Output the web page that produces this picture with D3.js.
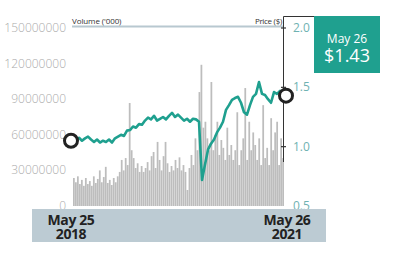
<!DOCTYPE html>
<html><head><meta charset="utf-8">
<script src="https://cdn.jsdelivr.net/npm/d3@7"></script>
<style>html,body{margin:0;padding:0;background:#fff;}svg{display:block;font-family:"Open Sans",sans-serif;}</style>
</head><body><svg id="c" width="394" height="259"></svg>
<script>
// Volume (daily-ish, millions of shares)
const volume = [23.6,20,25,18.5,22,17,23.6,18.5,21,17,25,19.4,22.8,30,20,24.4,33,19.4,22,17.7,
23.6,20,25,28.7,38.8,30,40.4,34.5,86.8,47,40.4,32,36,28.7,33.7,28.7,32,37,30,42,
45.5,32,54,38.8,30,42,54,36,28.7,33.7,30,38.8,32,41,30,34.5,28.7,13.5,32,43,
34.5,57,47,96,119,66,71,57,47,104.5,47,60,71,43,55.6,49,38.8,66,43,51.4,
38.8,47,79,34.5,47,57,99.4,38.8,71,47,62,51.4,38.8,57,34.5,85,40.4,49,34.5,74,
47,62,71,34.5,57,40.4];
// Share price ($)
const price = [1.05,1.06,1.075,1.05,1.07,1.085,1.06,1.04,1.06,1.035,1.05,1.04,1.06,1.035,1.07,1.085,1.10,1.09,1.135,1.14,
1.17,1.16,1.19,1.185,1.22,1.245,1.23,1.26,1.22,1.235,1.25,1.23,1.26,1.285,1.25,1.27,1.245,1.22,1.235,1.21,
1.235,1.23,1.21,0.72,0.85,0.975,1.025,1.06,1.12,1.16,1.21,1.31,1.35,1.395,1.41,1.42,1.37,1.29,1.27,1.35,
1.42,1.445,1.545,1.445,1.435,1.40,1.37,1.46,1.445,1.47,1.43];
const volTicks = [0,30000000,60000000,90000000,120000000,150000000];
const priceTicks = [0.5,1.0,1.5,2.0];
const startLabel = ["May 25","2018"];
const endLabel = ["May 26","2021"];
const calloutLabel = ["May 26","$1.43"];
const volTitle = "Volume ('000)";
const priceTitle = "Price ($)";

const svg = d3.select("#c");
const L = 73, R = 283, T = 28, B = 206;
const teal = "#1fa08f";

const yV = d3.scaleLinear().domain([0,150]).range([B,T]);
const yP = d3.scaleLinear().domain([0.5,2.0]).range([B,T]);
const xB = d3.scaleBand().domain(d3.range(volume.length)).range([L,R+1]).paddingInner(0.12);
const xP = d3.scaleLinear().domain([0,price.length-1]).range([L,R]);

// header line
svg.append("line").attr("x1",L-1).attr("x2",R).attr("y1",26.5).attr("y2",26.5).attr("stroke","#b8c8d0").attr("stroke-width",2);
svg.append("text").attr("x",L-1).attr("y",24).attr("font-size",8).attr("fill","#333").attr("letter-spacing","-0.1").text(volTitle);
svg.append("text").attr("x",R-1).attr("y",24).attr("font-size",8).attr("fill","#333").attr("text-anchor","end").attr("letter-spacing","-0.3").text(priceTitle);

// left axis labels
svg.append("g").selectAll("text").data(volTicks).join("text")
  .attr("x",66).attr("y",d=>yV(d/1e6)+4).attr("text-anchor","end")
  .attr("font-size",12).attr("font-weight",300).attr("fill","#ababab").text(d=>d);

// bars
svg.append("g").selectAll("rect").data(volume).join("rect")
  .attr("x",(d,i)=>xB(i)).attr("width",xB.bandwidth())
  .attr("y",d=>yV(d)).attr("height",d=>B-yV(d)).attr("fill","#bdbdbd");

// price line
svg.append("path").datum(price)
  .attr("d",d3.line().x((d,i)=>xP(i)).y(d=>yP(d)))
  .attr("fill","none").attr("stroke",teal).attr("stroke-width",2.6).attr("stroke-linejoin","round");

// right axis
svg.append("line").attr("x1",R+0.5).attr("x2",R+0.5).attr("y1",16.5).attr("y2",162).attr("stroke","#333").attr("stroke-width",1);
svg.append("line").attr("x1",R+0.5).attr("x2",314).attr("y1",16.5).attr("y2",16.5).attr("stroke","#333").attr("stroke-width",1);
svg.append("g").selectAll("line").data(priceTicks.filter(d=>d>0.5)).join("line")
  .attr("x1",R-2).attr("x2",R+3).attr("y1",d=>yP(d)).attr("y2",d=>yP(d)).attr("stroke","#333").attr("stroke-width",1.2);
svg.append("g").selectAll("text").data(priceTicks).join("text")
  .attr("x",293).attr("y",d=>yP(d)+4).attr("font-size",12).attr("fill","#6fb2b2").text(d=>d.toFixed(1));

// bottom band (drawn over the lowest tick labels, as in the reference)
svg.append("rect").attr("x",32).attr("y",209).attr("width",294).attr("height",33).attr("fill","#bccbd3");

// circles
svg.append("circle").attr("cx",xP(0)-2).attr("cy",yP(price[0])).attr("r",6.5)
  .attr("fill","#fff").attr("stroke","#222").attr("stroke-width",3);
svg.append("circle").attr("cx",xP(price.length-1)+3).attr("cy",yP(price[price.length-1])).attr("r",6.5)
  .attr("fill","#fff").attr("stroke","#222").attr("stroke-width",3);

// callout
svg.append("rect").attr("x",314).attr("y",16).attr("width",66).attr("height",57).attr("fill",teal);
svg.append("text").attr("x",347).attr("y",43).attr("text-anchor","middle").attr("font-size",12).attr("fill","#fff").text(calloutLabel[0]);
svg.append("text").attr("x",347).attr("y",62).attr("text-anchor","middle").attr("font-size",18).attr("fill","#fff").text(calloutLabel[1]);

// date labels
[[71,startLabel],[287,endLabel]].forEach(([x,lab])=>{
  lab.forEach((t,k)=>svg.append("text").attr("x",x).attr("y",225+k*13.5).attr("text-anchor","middle")
    .attr("font-size",14).attr("font-weight",700).attr("fill","#222").attr("letter-spacing","-0.4").text(t));
});
</script></body></html>
